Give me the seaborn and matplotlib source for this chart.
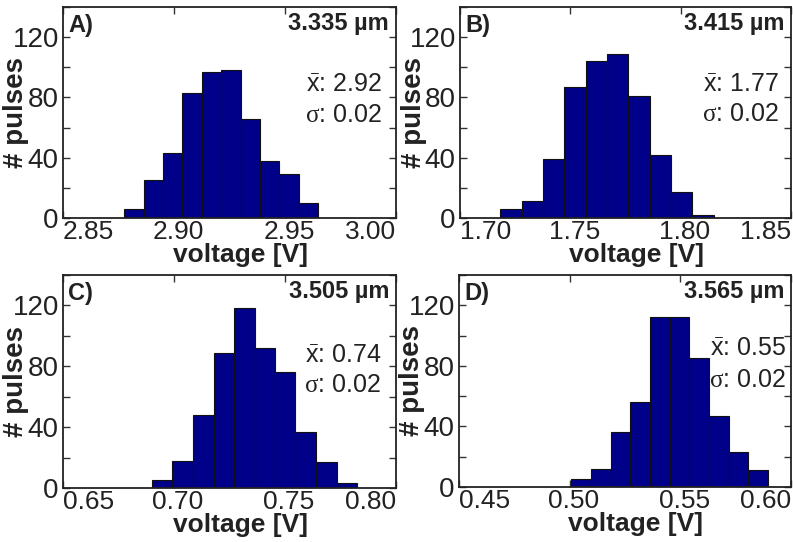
import numpy as np
import pandas as pd
import matplotlib
matplotlib.use("Agg")
import matplotlib.pyplot as plt
import matplotlib.transforms as mtransforms
import seaborn as sns

# ---------------- data ----------------
panel_labels = ["A)", "B)", "C)", "D)"]
wavelengths = ["3.335 µm", "3.415 µm", "3.505 µm", "3.565 µm"]
means = ["2.92", "1.77", "0.74", "0.55"]
sigmas = ["0.02", "0.02", "0.02", "0.02"]

edges_A = [2.8776, 2.8863, 2.8950, 2.9038, 2.9125, 2.9212, 2.9300, 2.9387, 2.9474, 2.9562, 2.9649]
counts_A = [6, 25, 43, 83, 97, 98, 66, 38, 29, 10]
edges_B = [1.7183, 1.7280, 1.7376, 1.7473, 1.7570, 1.7667, 1.7763, 1.7860, 1.7957, 1.8053, 1.8150]
counts_B = [6, 11, 39, 87, 104, 109, 81, 42, 17, 2]
edges_C = [0.6901, 0.6993, 0.7086, 0.7178, 0.7270, 0.7363, 0.7455, 0.7547, 0.7639, 0.7732, 0.7824]
counts_C = [5, 18, 48, 89, 118, 92, 76, 37, 17, 3]
edges_D = [0.5008, 0.5097, 0.5186, 0.5274, 0.5363, 0.5452, 0.5541, 0.5630, 0.5718, 0.5807, 0.5896]
counts_D = [5, 12, 36, 56, 112, 112, 85, 47, 23, 11]

xticks_A = [2.85, 2.90, 2.95, 3.00]
xticks_B = [1.70, 1.75, 1.80, 1.85]
xticks_C = [0.65, 0.70, 0.75, 0.80]
xticks_D = [0.45, 0.50, 0.55, 0.60]

yticks = [0, 20, 40, 60, 80, 100, 120, 140]
ytick_labels = ["0", "", "40", "", "80", "", "120", ""]

edges_all = [edges_A, edges_B, edges_C, edges_D]
counts_all = [counts_A, counts_B, counts_C, counts_D]
xticks_all = [xticks_A, xticks_B, xticks_C, xticks_D]

# ---------------- style ----------------
sns.set_style("ticks")
plt.rcParams["font.family"] = ["Liberation Sans", "DejaVu Sans"]
plt.rcParams["mathtext.fontset"] = "custom"
plt.rcParams["mathtext.rm"] = "Liberation Serif"
plt.rcParams["mathtext.sf"] = "Liberation Sans"
TXT = "#222222"
BAR = "#000088"

W, H = 793, 542
fig = plt.figure(figsize=(W / 100, H / 100), dpi=100)

# axes boxes in pixels: left, top, right, bottom
boxes = [(63, 7, 396, 218), (460, 7, 791, 218), (63, 275, 396, 488), (459, 275, 791, 487)]
# stats text position (axes fraction): x_right, y_mean, y_sigma
stat_pos = [(0.958, 0.595, 0.455), (0.962, 0.597, 0.458), (0.955, 0.588, 0.450), (0.985, 0.620, 0.470)]

for i in range(4):
    l, t, r, b = boxes[i]
    ax = fig.add_axes([l / W, 1 - b / H, (r - l) / W, (b - t) / H])
    edges = edges_all[i]
    counts = counts_all[i]
    centers = [(edges[k] + edges[k + 1]) / 2 for k in range(len(counts))]
    df = pd.DataFrame({"voltage": centers, "n": counts})
    sns.histplot(data=df, x="voltage", weights="n", bins=edges, ax=ax,
                 color=BAR, edgecolor="#111111", linewidth=0.8, alpha=1.0)
    xt = xticks_all[i]
    ax.set_xlim(xt[0], xt[-1])
    ax.set_ylim(0, 140)
    ax.set_yticks(yticks)
    ax.set_yticklabels(ytick_labels)
    ax.set_xticks(xt)
    ax.set_xticklabels([f"{v:.2f}" for v in xt])
    ax.tick_params(direction="in", top=True, right=True, length=5, width=1,
                   colors="#333333", labelcolor=TXT)
    ax.tick_params(axis="y", labelsize=20, pad=3)
    ax.tick_params(axis="x", labelsize=19, pad=1.5)
    for sp in ax.spines.values():
        sp.set_visible(True)
        sp.set_color("#222222")
        sp.set_linewidth(1.3)
    # tick-label alignment like the reference
    labs = ax.get_xticklabels()
    labs[0].set_horizontalalignment("left")
    labs[-1].set_horizontalalignment("right")
    offs = [0, 4, 4, 0]
    for k, lab in enumerate(labs):
        if offs[k]:
            lab.set_transform(lab.get_transform() +
                              mtransforms.ScaledTranslation(offs[k] / 100, 0, fig.dpi_scale_trans))
    ax.set_xlabel("voltage [V]", fontsize=19, fontweight="bold", color=TXT, labelpad=0)
    ax.xaxis.set_label_coords(0.532, -0.118, transform=ax.transAxes)
    ax.xaxis.label.set_verticalalignment("top")
    ax.set_ylabel("# pulses", fontsize=20, fontweight="bold", color=TXT)
    ax.yaxis.set_label_coords(-0.101, 0.5)

    ax.text(0.015, 0.883, panel_labels[i], transform=ax.transAxes, fontsize=17,
            fontweight="bold", color=TXT, ha="left", va="baseline")
    ax.text(0.979, 0.891, wavelengths[i], transform=ax.transAxes, fontsize=17,
            fontweight="bold", color=TXT, ha="right", va="baseline")
    xr, ym, ys = stat_pos[i]
    ax.text(xr, ym, r"$\bar{\mathsf{x}}$: " + means[i], transform=ax.transAxes,
            fontsize=18, color=TXT, ha="right", va="baseline")
    ax.text(xr, ys, r"$\mathrm{\sigma}$: " + sigmas[i], transform=ax.transAxes,
            fontsize=18, color=TXT, ha="right", va="baseline")

fig.savefig("out.png", dpi=100)
